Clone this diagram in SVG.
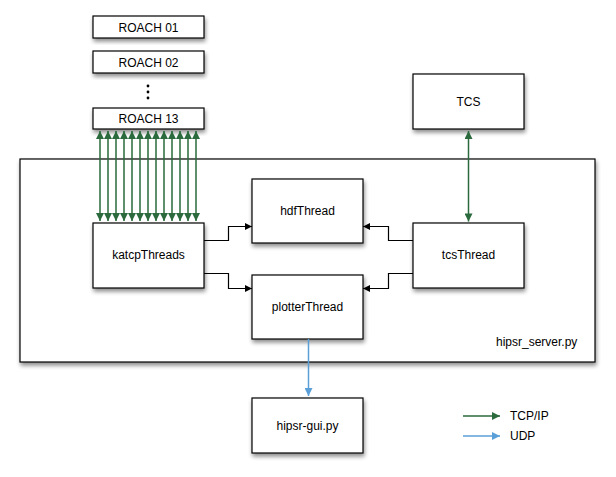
<svg xmlns="http://www.w3.org/2000/svg" width="616" height="477" viewBox="0 0 616 477">
<style>
.box{fill:#fff;stroke:#000;stroke-width:1.2;filter:url(#sh)}
.t{font-family:"Liberation Sans",Arial,sans-serif;font-size:12px;fill:#000;text-anchor:middle}
.tl{font-family:"Liberation Sans",Arial,sans-serif;font-size:12px;fill:#000}
.g{stroke:#2a6a3c;stroke-width:1.5;fill:none}
.u{stroke:#5b9fd8;stroke-width:1.5;fill:none}
.k{stroke:#000;stroke-width:1.2;fill:none}
</style>
<defs>
<filter id="sh" x="-10%" y="-10%" width="130%" height="140%">
<feGaussianBlur in="SourceAlpha" stdDeviation="2"/>
<feOffset dx="1" dy="3" result="b"/>
<feComponentTransfer><feFuncA type="linear" slope="0.45"/></feComponentTransfer>
<feMerge><feMergeNode/><feMergeNode in="SourceGraphic"/></feMerge>
</filter>
<marker id="ge" viewBox="0 0 10 10" refX="10" refY="5" markerWidth="6" markerHeight="6" markerUnits="userSpaceOnUse" orient="auto" overflow="visible">
<path d="M0,0 L10,5 L0,10 z" fill="#2a6a3c" transform="scale(1)"/>
</marker>
<marker id="gs" viewBox="0 0 10 10" refX="0" refY="5" markerWidth="6" markerHeight="6" markerUnits="userSpaceOnUse" orient="auto" overflow="visible">
<path d="M10,0 L0,5 L10,10 z" fill="#2a6a3c"/>
</marker>
<marker id="ge2" viewBox="0 0 10 10" refX="10" refY="5" markerWidth="9" markerHeight="8" markerUnits="userSpaceOnUse" orient="auto">
<path d="M0,0 L10,5 L0,10 z" fill="#2a6a3c"/>
</marker>
<marker id="gs2" viewBox="0 0 10 10" refX="0" refY="5" markerWidth="9" markerHeight="8" markerUnits="userSpaceOnUse" orient="auto">
<path d="M10,0 L0,5 L10,10 z" fill="#2a6a3c"/>
</marker>
<marker id="ue" viewBox="0 0 10 10" refX="10" refY="5" markerWidth="9" markerHeight="8" markerUnits="userSpaceOnUse" orient="auto">
<path d="M0,0 L10,5 L0,10 z" fill="#5b9fd8"/>
</marker>
<marker id="ke" viewBox="0 0 10 10" refX="10" refY="5" markerWidth="8" markerHeight="7" markerUnits="userSpaceOnUse" orient="auto">
<path d="M0,0 L10,5 L0,10 z" fill="#000"/>
</marker>
</defs>
<rect width="616" height="477" fill="#fff"/>

<g id="server">
<rect class="box" x="20" y="159" width="575" height="203"/>
<text class="tl" x="496" y="346">hipsr_server.py</text>
</g>

<g id="roach01"><rect class="box" x="93" y="16" width="111" height="22"/><text class="t" x="148.5" y="31.5">ROACH 01</text></g>
<g id="roach02"><rect class="box" x="93" y="51" width="111" height="22"/><text class="t" x="148.5" y="66.5">ROACH 02</text></g>
<g id="dots"><circle cx="148" cy="86" r="1.4"/><circle cx="148" cy="92" r="1.4"/><circle cx="148" cy="98" r="1.4"/></g>
<g id="roach13"><rect class="box" x="93" y="108" width="111" height="21"/><text class="t" x="148.5" y="123">ROACH 13</text></g>
<g id="tcs"><rect class="box" x="413" y="74" width="111" height="55"/><text class="t" x="468.5" y="106">TCS</text></g>
<g id="katcpThreads"><rect class="box" x="93" y="223" width="111" height="65"/><text class="t" x="148.5" y="259">katcpThreads</text></g>
<g id="hdfThread"><rect class="box" x="252" y="179" width="111" height="64"/><text class="t" x="307.5" y="215">hdfThread</text></g>
<g id="plotterThread"><rect class="box" x="252" y="275" width="111" height="64"/><text class="t" x="307.5" y="311">plotterThread</text></g>
<g id="tcsThread"><rect class="box" x="413" y="223" width="111" height="65"/><text class="t" x="468.5" y="259">tcsThread</text></g>
<g id="hipsrGui"><rect class="box" x="252" y="398" width="111" height="55"/><text class="t" x="307.5" y="430">hipsr-gui.py</text></g>

<g id="connectors">
<path class="g" d="M100,131 V221" marker-start="url(#gs2)" marker-end="url(#ge2)"/>
<path class="g" d="M108,131 V221" marker-start="url(#gs2)" marker-end="url(#ge2)"/>
<path class="g" d="M116,131 V221" marker-start="url(#gs2)" marker-end="url(#ge2)"/>
<path class="g" d="M124,131 V221" marker-start="url(#gs2)" marker-end="url(#ge2)"/>
<path class="g" d="M132,131 V221" marker-start="url(#gs2)" marker-end="url(#ge2)"/>
<path class="g" d="M140,131 V221" marker-start="url(#gs2)" marker-end="url(#ge2)"/>
<path class="g" d="M148,131 V221" marker-start="url(#gs2)" marker-end="url(#ge2)"/>
<path class="g" d="M156,131 V221" marker-start="url(#gs2)" marker-end="url(#ge2)"/>
<path class="g" d="M164,131 V221" marker-start="url(#gs2)" marker-end="url(#ge2)"/>
<path class="g" d="M172,131 V221" marker-start="url(#gs2)" marker-end="url(#ge2)"/>
<path class="g" d="M180,131 V221" marker-start="url(#gs2)" marker-end="url(#ge2)"/>
<path class="g" d="M188,131 V221" marker-start="url(#gs2)" marker-end="url(#ge2)"/>
<path class="g" d="M196,131 V221" marker-start="url(#gs2)" marker-end="url(#ge2)"/>
<path class="g" d="M468.5,131 V221.5" marker-start="url(#gs2)" marker-end="url(#ge2)"/>
<path class="k" d="M204,240.5 H228.5 V226.5 H252" marker-end="url(#ke)"/>
<path class="k" d="M204,273.5 H228.5 V288.5 H252" marker-end="url(#ke)"/>
<path class="k" d="M413,240.5 H388.5 V226.5 H363" marker-end="url(#ke)"/>
<path class="k" d="M413,273.5 H388.5 V288.5 H363" marker-end="url(#ke)"/>
<path class="u" d="M308.5,339 V396" marker-end="url(#ue)"/>
</g>

<g id="legend">
<path class="g" d="M463,416 H500" marker-end="url(#ge2)"/>
<path class="u" d="M463,436 H500" marker-end="url(#ue)"/>
<text class="tl" x="510" y="420">TCP/IP</text>
<text class="tl" x="510" y="440">UDP</text>
</g>
</svg>
